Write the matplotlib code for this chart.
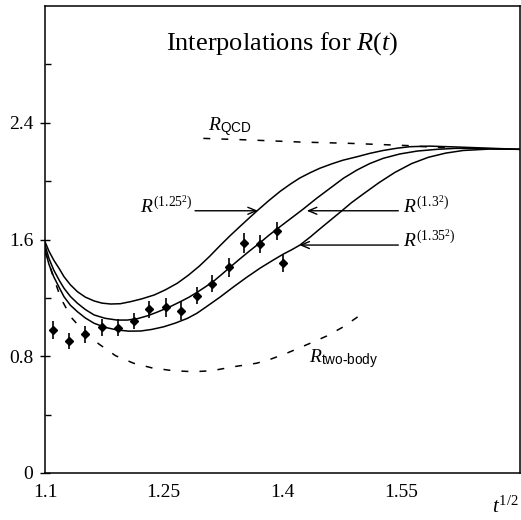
import matplotlib
matplotlib.use("Agg")
import matplotlib.pyplot as plt

plt.rcParams["font.family"] = ["Liberation Serif", "DejaVu Serif"]
plt.rcParams["mathtext.fontset"] = "custom"
plt.rcParams["mathtext.rm"] = "Liberation Serif"
plt.rcParams["mathtext.it"] = "Liberation Serif:italic"
plt.rcParams["mathtext.sf"] = "Liberation Sans"
plt.rcParams["lines.scale_dashes"] = False

# lattice points with errors
t_data = [1.110, 1.130, 1.150, 1.172, 1.192, 1.212, 1.231, 1.253, 1.272, 1.292,
          1.311, 1.332, 1.351, 1.372, 1.393, 1.401]
r_data = [0.980, 0.904, 0.950, 0.998, 0.996, 1.041, 1.122, 1.135, 1.112, 1.215,
          1.297, 1.409, 1.578, 1.569, 1.660, 1.437]
r_err = [0.060, 0.057, 0.057, 0.060, 0.057, 0.057, 0.060, 0.063, 0.065, 0.057,
         0.057, 0.063, 0.069, 0.063, 0.063, 0.060]

# interpolation R^(1.25^2)
x_125 = [1.100, 1.105, 1.111, 1.118, 1.124, 1.132, 1.141, 1.151, 1.162, 1.172,
         1.183, 1.195, 1.208, 1.222, 1.238, 1.252, 1.267, 1.281, 1.295, 1.308,
         1.320, 1.333, 1.346, 1.358, 1.369, 1.383, 1.397, 1.410, 1.422, 1.435,
         1.447, 1.462, 1.476, 1.494, 1.510, 1.527, 1.545, 1.561, 1.586, 1.620,
         1.660, 1.700]
y_125 = [1.585, 1.520, 1.459, 1.400, 1.345, 1.290, 1.242, 1.205, 1.179, 1.164,
         1.158, 1.160, 1.174, 1.193, 1.220, 1.255, 1.300, 1.355, 1.418, 1.485,
         1.552, 1.622, 1.688, 1.748, 1.802, 1.868, 1.930, 1.980, 2.022, 2.058,
         2.088, 2.118, 2.143, 2.167, 2.190, 2.210, 2.226, 2.236, 2.240, 2.234,
         2.226, 2.218]

# interpolation R^(1.3^2)
x_130 = [1.100, 1.105, 1.111, 1.118, 1.124, 1.132, 1.141, 1.151, 1.162, 1.176,
         1.191, 1.204, 1.217, 1.230, 1.242, 1.257, 1.271, 1.282, 1.292, 1.303,
         1.314, 1.323, 1.332, 1.345, 1.358, 1.372, 1.383, 1.393, 1.410, 1.426,
         1.443, 1.460, 1.477, 1.494, 1.510, 1.527, 1.548, 1.570, 1.595, 1.620,
         1.660, 1.700]
y_130 = [1.562, 1.470, 1.391, 1.320, 1.266, 1.210, 1.163, 1.120, 1.083, 1.060,
         1.048, 1.048, 1.058, 1.078, 1.103, 1.137, 1.174, 1.205, 1.238, 1.277,
         1.319, 1.360, 1.402, 1.462, 1.520, 1.580, 1.630, 1.672, 1.742, 1.808,
         1.882, 1.951, 2.020, 2.076, 2.120, 2.156, 2.186, 2.206, 2.218, 2.225,
         2.222, 2.218]

# interpolation R^(1.35^2)
x_135 = [1.100, 1.105, 1.111, 1.118, 1.124, 1.132, 1.141, 1.151, 1.162, 1.176,
         1.191, 1.206, 1.221, 1.235, 1.250, 1.265, 1.280, 1.292, 1.304, 1.321,
         1.338, 1.355, 1.372, 1.387, 1.401, 1.411, 1.422, 1.435, 1.447, 1.460,
         1.473, 1.487, 1.502, 1.522, 1.542, 1.563, 1.584, 1.606, 1.628, 1.662,
         1.700]
y_135 = [1.528, 1.430, 1.345, 1.270, 1.208, 1.150, 1.105, 1.062, 1.026, 0.998,
         0.980, 0.972, 0.973, 0.984, 1.002, 1.028, 1.060, 1.095, 1.140, 1.205,
         1.275, 1.342, 1.405, 1.455, 1.500, 1.528, 1.562, 1.617, 1.672, 1.730,
         1.788, 1.852, 1.912, 1.990, 2.060, 2.120, 2.163, 2.192, 2.210, 2.220,
         2.218]

# two-body approximation
x_2b = [1.100, 1.109, 1.120, 1.133, 1.150, 1.168, 1.189, 1.212, 1.236, 1.262,
        1.288, 1.311, 1.338, 1.367, 1.382, 1.405, 1.435, 1.456, 1.477, 1.500]
y_2b = [1.521, 1.368, 1.197, 1.067, 0.964, 0.884, 0.804, 0.752, 0.719, 0.701,
        0.694, 0.701, 0.728, 0.752, 0.774, 0.820, 0.889, 0.939, 1.002, 1.089]

# perturbative QCD
x_qcd = [1.300, 1.359, 1.422, 1.485, 1.561, 1.586, 1.620]
y_qcd = [2.293, 2.282, 2.268, 2.259, 2.243, 2.234, 2.225]

fig = plt.figure(figsize=(5.21, 5.20), dpi=100)
ax = fig.add_axes([0.0864, 0.0904, 0.9117, 0.898])

for xs, ys in [(x_125, y_125), (x_130, y_130), (x_135, y_135)]:
    ax.plot(xs, ys, color="black", lw=1.1)
ax.plot(x_2b, y_2b, color="black", lw=1.1, dashes=(5, 8))
ax.plot(x_qcd, y_qcd, color="black", lw=1.1, dashes=(5, 8))

ax.errorbar(t_data, r_data, yerr=r_err, fmt="D", color="black", ms=3.8,
            elinewidth=1.2, capsize=0)

ax.set_xlim(1.1, 1.7)
ax.set_ylim(0, 3.2)
ax.set_xticks([1.1, 1.25, 1.4, 1.55])
ax.set_xticklabels(["1.1", "1.25", "1.4", "1.55"])
ax.set_yticks([0, 0.8, 1.6, 2.4])
ax.set_yticklabels(["0", "0.8", "1.6", "2.4"])
ax.set_yticks([0.4, 1.2, 2.0, 2.8], minor=True)
ax.tick_params(axis="x", length=0, pad=8, labelsize=14)
ax.tick_params(axis="y", which="major", direction="inout", length=7, width=1,
               pad=5, labelsize=14)
ax.tick_params(axis="y", which="minor", direction="in", length=4, width=1)
for s in ax.spines.values():
    s.set_linewidth(1.1)

ax.text(1.3994, 2.90, "Interpolations for $R(t)$", ha="center", va="baseline",
        fontsize=19)
ax.text(1.306, 2.35, r"$R_{\mathsf{QCD}}$", fontsize=14, va="baseline")
ax.text(1.434, 0.76, r"$R_{\mathsf{two\text{-}body}}$", fontsize=14, va="baseline")
ax.text(1.664, -0.275, r"$t^{1/2}$", fontsize=15, va="baseline", clip_on=False)

arrow = dict(arrowstyle="->,head_length=0.6,head_width=0.25", lw=1,
             color="black", shrinkA=0, shrinkB=0)
ax.annotate("", xy=(1.369, 1.797), xytext=(1.2895, 1.797), arrowprops=arrow)
ax.annotate("", xy=(1.4306, 1.797), xytext=(1.5463, 1.797), arrowprops=arrow)
ax.annotate("", xy=(1.4212, 1.562), xytext=(1.5463, 1.562), arrowprops=arrow)
ax.text(1.220, 1.78, r"$R^{(1.25^2)}$", fontsize=14, va="baseline")
ax.text(1.552, 1.78, r"$R^{(1.3^2)}$", fontsize=14, va="baseline")
ax.text(1.552, 1.548, r"$R^{(1.35^2)}$", fontsize=14, va="baseline")

fig.savefig("out.png", dpi=100)
